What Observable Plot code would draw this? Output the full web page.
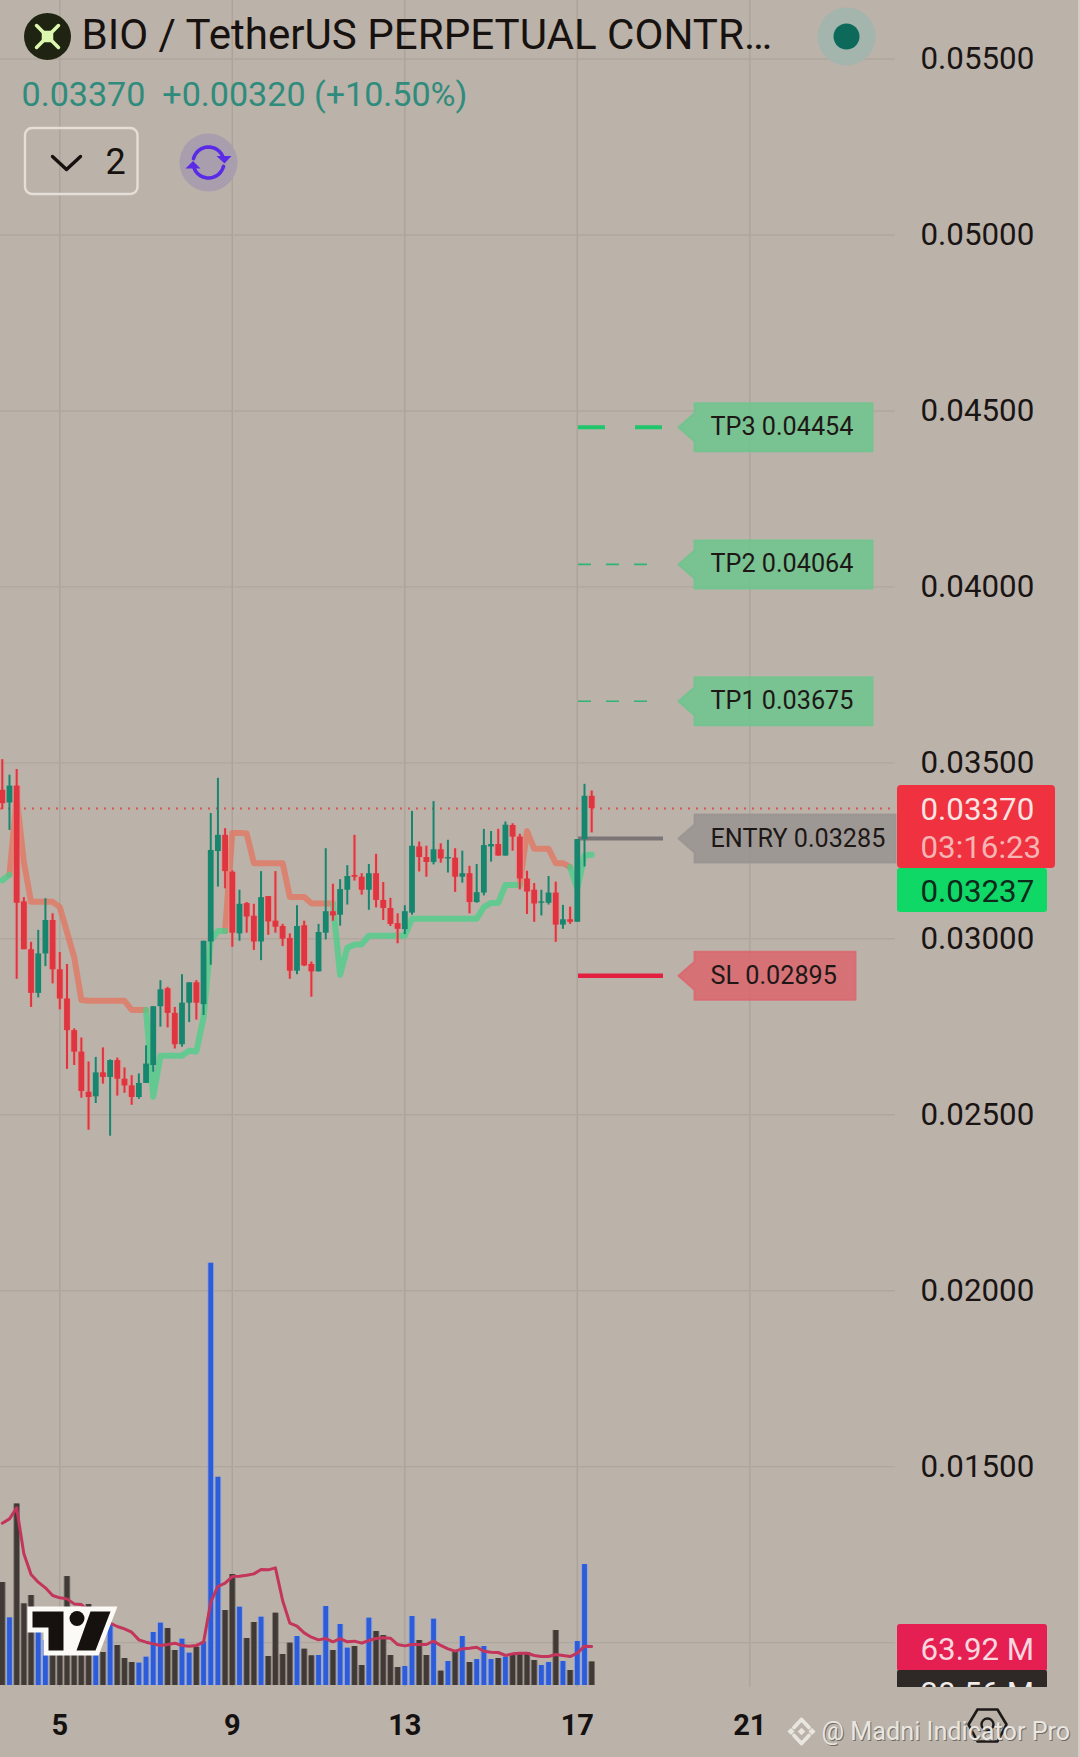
<!DOCTYPE html>
<html><head><meta charset="utf-8">
<script src="https://cdn.jsdelivr.net/npm/d3@7"></script>
<script src="https://cdn.jsdelivr.net/npm/@observablehq/plot@0.6"></script>
<style>html,body{margin:0;padding:0;background:#bbb2a9}svg{display:block}</style>
</head><body><div id="chart"></div>
<script>
const _ = null;
const firstDay = 3 + 2 / 3;
const dayTicks = [5, 9, 13, 17, 21];
const priceTicks = [0.055, 0.05, 0.045, 0.04, 0.035, 0.03, 0.025, 0.02, 0.015];
const gridPrices = [0.055, 0.05, 0.045, 0.04, 0.035, 0.03, 0.025, 0.02, 0.015, 0.01];

const opens = [.03422,.03386,.03434,.03105,.02969,.02845,.02957,.03052,.02912,.02829,
.02739,.02678,.02564,.02551,.02619,.02606,.02654,.02601,.02582,.02549,
.02589,.0264,.02807,.02858,.02788,.02699,.02817,.02875,.02813,.02991,
.03248,.03294,.03189,.03014,.031,.03064,.02991,.0312,.0305,.03035,
.03001,.02908,.03037,.02927,.02906,.03016,.03077,.03067,.03138,.0318,
.03175,.03138,.03185,.03109,.03086,.03043,.03026,.03073,.03261,.03231,
.03217,.03253,.03227,.03229,.03175,.03185,.03103,.0313,.03261,.03268,
.03235,.03322,.03289,.0317,.03138,.03101,.03101,.0313,.03039,.03054,
.03047,.03282,.03405];
const closes = [.03384,.03434,.03101,.02969,.02845,.02957,.03052,.02912,.02829,.02739,
.02678,.02566,.02549,.02619,.02606,.02654,.02601,.02582,.02549,.02589,
.02644,.02807,.02855,.02788,.02699,.02817,.02875,.02817,.02993,.03251,
.03294,.03191,.03016,.03098,.03062,.02991,.03117,.03048,.03033,.02999,
.02908,.03035,.02923,.02906,.03018,.03077,.03065,.0314,.03177,.03175,
.03138,.03185,.03109,.03086,.03041,.03027,.03077,.03263,.03231,.03217,
.03253,.03227,.03231,.03175,.03185,.03103,.03131,.03265,.03268,.03235,
.03323,.03289,.0317,.03133,.03099,.03105,.0313,.03039,.03054,.03047,
.03282,.03405,.0337];
const highs = [.03509,.03465,.03481,.03117,.0299,.03024,.03114,.03071,.02961,.02927,
.02744,.02718,.0265,.02663,.0269,.02656,.02661,.02633,.02611,.02616,
.02696,.02807,.02881,.02862,.02805,.02898,.02875,.02881,.02993,.03356,
.03456,.03313,.03193,.03138,.03103,.03098,.03191,.0312,.03191,.03041,
.03014,.03094,.0305,.02934,.03041,.03256,.03155,.03168,.03208,.03294,
.03185,.03211,.0324,.0316,.03115,.03071,.03094,.03362,.03275,.03263,
.0339,.0327,.0328,.03256,.03249,.03206,.03211,.03311,.03305,.03311,
.03332,.03327,.03297,.03192,.03157,.03138,.03177,.03161,.03095,.0309,
.03282,.03439,.0342];
const lows = [.03367,.03308,.02885,.02969,.02805,.02832,.02921,.02872,.02798,.02629,
.0264,.02547,.02456,.02532,.02587,.02439,.02553,.02561,.02527,.02544,
.02589,.02621,.02749,.02747,.02687,.02692,.02762,.02769,.02782,.02925,
.03147,.03142,.02976,.02993,.03016,.02967,.02938,.0301,.03016,.02978,
.02885,.02898,.02921,.02834,.02906,.02997,.0305,.03036,.03096,.03164,
.03124,.03081,.03088,.03052,.03035,.02986,.03012,.03067,.0319,.03175,
.0321,.03215,.03187,.03132,.03158,.03071,.03101,.03122,.03218,.03235,
.03235,.03249,.03139,.03069,.03047,.03065,.03096,.0299,.03027,.03041,
.03047,.03204,.03301];
const bandGreen = [.03166,.03182,_,_,_,_,_,_,_,_,
_,_,_,_,_,_,_,_,_,_,
.02798,.02551,.02668,.02668,.02668,.02668,.02682,.0268,.02777,.02995,
.03022,.03022,_,_,_,_,_,_,_,_,
_,_,_,_,_,_,.031,.02898,.02974,.02984,
.02984,.03009,.03009,.03009,.03009,.03009,.03009,.03057,.03057,.03057,
.03057,.03057,.03057,.03057,.03057,.03057,.03057,.0309,.03102,.03102,
.03153,.03153,.03153,_,_,_,_,_,_,.03204,
.03142,.03237,.03239];
const bandRed = [_,.03182,.03403,.03218,.03105,.03105,.03105,.03105,.0309,.03019,
.02948,.02826,.02824,.02824,.02824,.02824,.02824,.02824,.02798,.02798,
.02798,_,_,_,_,_,_,_,_,_,
_,.03022,.03301,.03301,.03299,.03215,.03215,.03215,.03215,.03215,
.03119,.03119,.03119,.03101,.031,.031,.031,_,_,_,
_,_,_,_,_,_,_,_,_,_,
_,_,_,_,_,_,_,_,_,_,
_,_,.03153,.03306,.03256,.03256,.03256,.03215,.03215,.03204,
_,_,_];
const volumes = [168.8,110.9,297.7,133.8,147.5,86.9,73.8,62.8,68.3,178.6,
79.2,79.2,132.8,62.8,54.1,101.1,65.6,44.3,37.7,36.6,
46.4,86.9,102.2,93.4,57.4,75.9,53,62.8,71.6,692.2,
341.4,122.9,181.9,128.4,77,103.3,112,47.5,118.5,50.8,
69.4,80.3,59.5,48.6,49.2,129.5,57.4,100,61.2,63.9,
32.8,110.4,88.5,81.9,49.2,29.5,31.1,113.1,73.8,49.2,
108.7,23.5,39.3,57.4,80.3,37.7,42.6,63.9,42.6,44.3,
46.4,50.8,51.9,54.1,41,32.8,37.7,90.1,39.3,24.6,
72.1,198.3,38.56];
const volumeMA = [266,273.2,291.2,215.8,181.9,169.4,160.1,147.5,143.7,142,
133.8,132.8,121.8,114.7,106.5,102.2,96.7,92.9,87.4,74.8,
71,68.3,65.6,67.2,69.4,65.6,64.5,65.6,71,136.6,
162.3,167.7,178.6,179.2,180.8,183,190.1,189.6,192.8,139.3,
102.2,97.2,86.3,79.2,74.8,77,71.6,77,71.6,72.7,
69.4,73.8,77,78.1,77.6,67.2,65,67.2,67.2,67.2,
72.7,65.6,60.1,56.3,60.1,61.2,62.8,56.3,54.6,54.1,
49.2,51.9,53,53,49.2,47.5,47.5,50.8,49.2,47.5,
53,64.5,63.92];

const levelNames = ["TP3 0.04454", "TP2 0.04064", "TP1 0.03675", "ENTRY 0.03285", "SL 0.02895"];
const levelPrices = [0.04454, 0.04064, 0.03675, 0.03285, 0.02895];
const levelFills = ["#6fc48d", "#6fc48d", "#6fc48d", "#9a9492", "#d9686e"];
const levelStrokes = ["#1fc66c", "#2fb474", "#2fb474", "#7b7578", "#e3203f"];
const levelWidths = [4, 1.6, 1.6, 4, 4.5];
const levelDashes = ["27,30", "13,15", "13,15", "none", "none"];
const levelLineEnd = [663, 650, 650, 663, 663];
const levelBoxRight = [872, 872, 872, 895, 855];
const lastPrice = 0.0337;

const W = 1080, H = 1757, plotR = 895, plotB = 1687, volBase = 1685, pxPerM = 0.61;
const xDomain = [3.625, 28.668];
const yDomain = [0.056664, 0.006735];
const pxX = d3.scaleLinear([0, W], xDomain);
const pxY = d3.scaleLinear([0, H], yDomain);
const volY = d3.scaleLinear([0, 1], [pxY(volBase), pxY(volBase - pxPerM)]);

const idx = d3.range(opens.length);
const rows = idx.map(i => ({
  day: firstDay + i / 6, o: opens[i], h: highs[i], l: lows[i], c: closes[i],
  up: closes[i] >= opens[i], v: volumes[i], ma: volumeMA[i],
  g: bandGreen[i], r: bandRed[i]
}));
const redRows = rows.filter(d => !d.up);
const levels = levelNames.map((name, i) => ({
  name, price: levelPrices[i], fill: levelFills[i], stroke: levelStrokes[i],
  width: levelWidths[i], dash: levelDashes[i], right: levelBoxRight[i], end: levelLineEnd[i]
}));
const font = "Roboto, sans-serif";
const BG = "#bbb2a9";
const GREEN = "#17866f", RED = "#de3540";
const AXIS_SIZE = 31.3;

const text = (t, px, py, o = {}) => Plot.text([t], {
  x: () => pxX(px), y: () => pxY(py), text: d => d, fontFamily: font,
  textAnchor: "start", fill: "#1a1514", fontSize: AXIS_SIZE, ...o
});
const poly = (pts, o) => Plot.line([...pts, pts[0]], {
  x: d => pxX(d[0]), y: d => pxY(d[1]), curve: "linear", ...o
});
const path = (pts, o) => Plot.line(pts, {
  x: d => pxX(d[0]), y: d => pxY(d[1]), curve: "linear", ...o
});
const dot = (px, py, o) => Plot.dot([0], {x: () => pxX(px), y: () => pxY(py), ...o});
const box = (a, b, c, d, o) => Plot.rect([0], {
  x1: () => pxX(a), x2: () => pxX(b), y1: () => pxY(c), y2: () => pxY(d), ...o
});
const callout = l => {
  const yc = pxY.invert(l.price);
  return poly([[678, yc], [694, yc - 14], [694, yc - 24], [l.right, yc - 24], [l.right, yc + 24], [694, yc + 24], [694, yc + 14]],
    {fill: l.fill, stroke: l.fill, strokeWidth: 2, strokeLinejoin: "round", fillOpacity: 0.88, strokeOpacity: 0.88});
};
const arc = (cx, cy, r, a0, a1) => d3.range(0, 13).map(k => {
  const a = a0 + (a1 - a0) * k / 12;
  return [cx + r * Math.cos(a), cy + r * Math.sin(a)];
});
const PI = Math.PI;
const MARK_COLOR = "#e9e6e0";

const chart = Plot.plot({
  width: W, height: H, margin: 0,
  style: {background: BG, fontFamily: font},
  x: {domain: xDomain, range: [0, W]},
  y: {domain: yDomain, range: [0, H]},
  color: {type: "identity"},
  marks: [
    // grid
    Plot.ruleX(dayTicks, {y1: () => pxY(0), y2: () => pxY(plotB), stroke: "#aca39b", strokeWidth: 1.4}),
    Plot.ruleY(gridPrices, {x1: () => pxX(0), x2: () => pxX(plotR), stroke: "#afa69e", strokeWidth: 1.4}),

    // last price line
    Plot.ruleY([lastPrice], {x1: () => pxX(0), x2: () => pxX(plotR), stroke: "#d9554f", strokeWidth: 2, strokeDasharray: "2,6"}),

    // volume bars
    Plot.ruleX(rows, {x: "day", y1: () => volY(0), y2: d => volY(d.v), stroke: d => d.up ? "#86a0ea" : "#6d6662", strokeWidth: 6.6, strokeOpacity: 0.8}),
    Plot.ruleX(rows, {x: "day", y1: () => volY(0), y2: d => volY(d.v), stroke: d => d.up ? "#2d5cd9" : "#403936", strokeWidth: 4.8}),
    Plot.line(rows, {x: "day", y: d => volY(d.ma), stroke: "#c4355c", strokeWidth: 3, curve: "linear"}),

    // trend band
    Plot.line(rows, {x: "day", y: "r", stroke: "#e5735f", strokeWidth: 6, strokeOpacity: 0.75, curve: "linear", strokeLinejoin: "round"}),
    Plot.line(rows, {x: "day", y: "g", stroke: "#45d08a", strokeWidth: 6, strokeOpacity: 0.75, curve: "linear", strokeLinejoin: "round"}),

    // level lines
    ...levels.map(l => Plot.ruleY([l.price], {x1: () => pxX(578), x2: () => pxX(l.end), stroke: l.stroke, strokeWidth: l.width, strokeDasharray: l.dash})),

    // candles
    Plot.ruleX(redRows, {x: "day", y1: "l", y2: "h", stroke: "#ee8f88", strokeWidth: 4, strokeOpacity: 0.45}),
    Plot.ruleX(redRows, {x: "day", y1: "o", y2: "c", stroke: "#ee8f88", strokeWidth: 8, strokeOpacity: 0.6}),
    Plot.ruleX(rows, {x: "day", y1: "l", y2: "h", stroke: d => d.up ? GREEN : RED, strokeWidth: 2}),
    Plot.ruleX(rows, {x: "day", y1: "o", y2: "c", stroke: d => d.up ? GREEN : RED, strokeWidth: 5.8}),

    // level call-outs
    ...levels.map(callout),
    ...levels.map(l => text(l.name, 710, pxY.invert(l.price), {fontSize: 25.2, fill: "#1d1816"})),

    // axes
    Plot.axisY(priceTicks, {anchor: "right", tickSize: 0, tickPadding: -160, textAnchor: "start", tickFormat: d3.format(".5f"), fontSize: AXIS_SIZE, fontFamily: font, fill: "#1a1514", label: null}),
    Plot.axisX(dayTicks, {anchor: "bottom", tickSize: 0, tickPadding: -32, lineAnchor: "middle", fontSize: 29, fontFamily: font, fontWeight: 700, fill: "#141110", label: null}),

    // price tags
    box(897, 1055, 785, 868, {fill: "#ef3140", rx: 4}),
    text("0.03370", 920, 809.5, {fill: "#f8e4e2"}),
    text("03:16:23", 920, 847, {fill: "#f6b5b3"}),
    box(897, 1047, 868, 912, {fill: "#0fd866", rx: 3}),
    text("0.03237", 920, 891, {fill: "#0f2a1a"}),
    box(897, 1047, 1624, 1671, {fill: "#e61f52", rx: 3}),
    text("63.92 M", 920, 1649, {fill: "#f9d7df"}),
    box(897, 1047, 1670, 1690, {fill: "#2e2827", rx: 2}),
    text("38.56 M", 920, 1693, {fill: "#f1ecea"}),
    box(890, 1060, 1687, 1712, {fill: BG}),
    box(1078, 1080, 0, 1757, {fill: "#d3cec8"}),

    // header
    dot(47, 36, {r: 23.5, fill: "#1f2412"}),
    dot(47, 36, {r: 10, symbol: "times", stroke: "#dcf7ae", strokeWidth: 3.6, strokeLinecap: "round"}),
    dot(47, 36, {r: 6.5, symbol: "square", fill: "#dcf7ae"}),
    text("BIO / TetherUS PERPETUAL CONTR…", 81, 35, {fontSize: 42.1, fill: "#17120f"}),
    text("0.03370  +0.00320 (+10.50%)", 21, 95, {fontSize: 34.1, fill: "#2f8c7c"}),
    box(25, 137.5, 128, 194, {stroke: "#e4dfd8", fill: "none", strokeWidth: 2.4, rx: 7}),
    path([[52, 156], [66, 169], [80, 156]], {stroke: "#17120f", strokeWidth: 3.4, strokeLinejoin: "round"}),
    text("2", 105, 162, {fontSize: 36, fill: "#17120f"}),
    dot(208, 162, {r: 29, fill: "#a89eae"}),
    path(arc(208, 162, 15.5, PI * 1.08, PI * 1.88), {stroke: "#5a2be6", strokeWidth: 3.6}),
    path(arc(208, 162, 15.5, PI * 0.08, PI * 0.88), {stroke: "#5a2be6", strokeWidth: 3.6}),
    poly([[216, 155.5], [231, 155.5], [224, 163]], {fill: "#5a2be6"}),
    poly([[185, 168], [200, 168], [192.5, 160.5]], {fill: "#5a2be6"}),
    dot(846, 36, {r: 29, fill: "#a4b5ae"}),
    dot(846, 36, {r: 13, fill: "#0d6a5b"}),

    // logo
    poly([[27, 1606], [117, 1606], [98, 1655], [43, 1655], [43, 1632], [27, 1632]], {fill: "#fbfaf6"}),
    poly([[32, 1611], [63, 1611], [63, 1650], [48, 1650], [48, 1627], [32, 1627]], {fill: "#16110f"}),
    poly([[90, 1611], [110, 1611], [95, 1650], [76, 1650]], {fill: "#16110f"}),
    dot(76.5, 1618, {r: 7.5, fill: "#16110f"}),

    // footer
    poly([[977, 1709], [997, 1709], [1006, 1724], [997, 1741], [977, 1741], [968, 1724]], {stroke: "#1e1a18", strokeWidth: 2.6, strokeLinejoin: "round"}),
    dot(987, 1724, {r: 6, stroke: "#1e1a18", strokeWidth: 2.4}),
    path([[793.5, 1727], [801, 1719], [808.5, 1727]], {stroke: MARK_COLOR, strokeWidth: 3.8}),
    path([[793.5, 1735], [801, 1743], [808.5, 1735]], {stroke: MARK_COLOR, strokeWidth: 3.8}),
    dot(801, 1731, {r: 3.4, symbol: "diamond2", fill: MARK_COLOR}),
    dot(790.5, 1731, {r: 3.2, symbol: "diamond2", fill: MARK_COLOR}),
    dot(811.5, 1731, {r: 3.2, symbol: "diamond2", fill: MARK_COLOR}),
    text("@ Madni Indicator Pro", 822, 1732, {fontSize: 25.2, fill: "#6f6a65"}),
    text("@ Madni Indicator Pro", 821, 1731, {fontSize: 25.2, fill: MARK_COLOR})
  ]
});
document.getElementById("chart").append(chart);
</script>
</body></html>
